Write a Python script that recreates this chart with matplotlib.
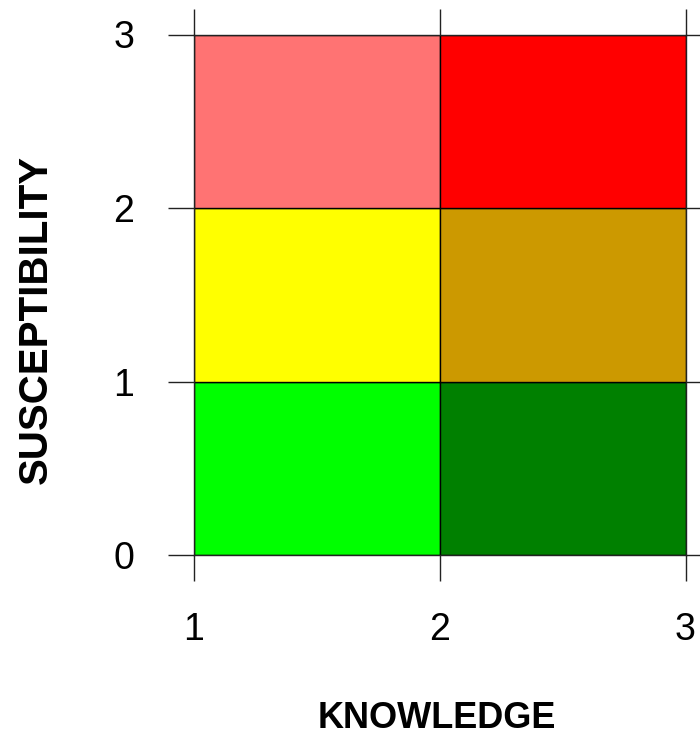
import matplotlib
matplotlib.use('Agg')
import matplotlib.pyplot as plt
import numpy as np

plt.rcParams['font.family'] = ['Liberation Sans', 'DejaVu Sans']

# risk matrix: knowledge (x) vs susceptibility (y)
knowledge_edges = [1, 2, 3]
susceptibility_edges = [0, 1, 2, 3]
# rows = susceptibility band (bottom -> top), cols = knowledge band (left -> right)
cell_colors = [
    ['#00FF00', '#008000'],
    ['#FFFF00', '#CC9900'],
    ['#FF7373', '#FF0000'],
]
x_ticks = [1, 2, 3]
y_ticks = [0, 1, 2, 3]

fig = plt.figure(figsize=(7, 7.36), dpi=100)
ax = fig.add_axes([194 / 700, 181 / 736, 491.5 / 700, 520.5 / 736])

for i in range(len(susceptibility_edges) - 1):
    for j in range(len(knowledge_edges) - 1):
        ax.bar(knowledge_edges[j], susceptibility_edges[i + 1] - susceptibility_edges[i],
               width=knowledge_edges[j + 1] - knowledge_edges[j],
               bottom=susceptibility_edges[i], align='edge',
               color=cell_colors[i][j], edgecolor='black', linewidth=1.0)

ax.set_xlim(knowledge_edges[0], knowledge_edges[-1])
ax.set_ylim(susceptibility_edges[0], susceptibility_edges[-1])
ax.set_xticks(x_ticks)
ax.set_yticks(y_ticks)
ax.set_xticklabels([str(t) for t in x_ticks])
ax.set_yticklabels([str(t) for t in y_ticks])

ax.tick_params(axis='both', direction='out', length=19, width=1.0, color='#222222',
               labelsize=27, top=True, right=True)
ax.tick_params(axis='x', pad=22)
ax.tick_params(axis='y', pad=24)
for s in ax.spines.values():
    s.set_linewidth(1.0)
    s.set_color('#222222')

ax.set_xlabel('KNOWLEDGE', fontsize=26, fontweight='bold')
ax.set_ylabel('SUSCEPTIBILITY', fontsize=29, fontweight='bold')
ax.xaxis.set_label_coords(0.494, -0.28)
ax.yaxis.set_label_coords(-0.283, 0.4515)

fig.savefig('out.png', dpi=100)
